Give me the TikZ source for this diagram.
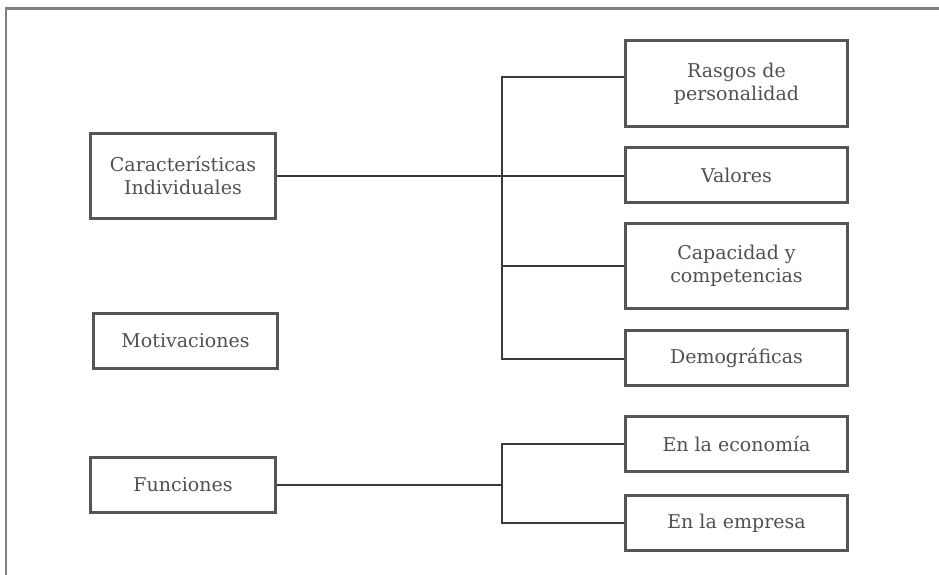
\documentclass[tikz,border=0pt]{standalone}
\usepackage{fontspec}
\setmainfont{DejaVu Serif}
\usepackage{tikz}
\usetikzlibrary{calc}

\definecolor{framegray}{HTML}{808080}
\definecolor{boxgray}{HTML}{555555}
\definecolor{linegray}{HTML}{3A3A3A}
\definecolor{textgray}{HTML}{505050}

\begin{document}
\begin{tikzpicture}[x = 1pt, y = -1pt,
		box/.style = {draw = boxgray, line width = 3pt, text = textgray, align = center, inner sep = 0pt,
			font = \fontsize{19}{23}\selectfont},
		conn/.style = {draw = linegray, line width = 2.5pt}]
				\useasboundingbox (0, 0) rectangle (939, 575);
				\draw[framegray, line width = 2.8pt] (6, 575)--(6, 8.5)--(939, 8.5);

				\node[box, minimum width = 185, minimum height = 85](caract) at (183, 176){Características\\Individuales};
				\node[box, minimum width = 184, minimum height = 55](motiv) at (185.5, 341){Motivaciones};
				\node[box, minimum width = 185, minimum height = 55](func) at (183, 485){Funciones};

				\node[box, minimum width = 222, minimum height = 86](rasgos) at (736.5, 83.5){Rasgos de\\personalidad};
				\node[box, minimum width = 222, minimum height = 55](valores) at (736.5, 175){Valores};
				\node[box, minimum width = 222, minimum height = 85](capac) at (736.5, 266){Capacidad y\\competencias};
				\node[box, minimum width = 222, minimum height = 55](demo) at (736.5, 358){Demográficas};
				\node[box, minimum width = 222, minimum height = 55](econ) at (736.5, 444){En la economía};
				\node[box, minimum width = 222, minimum height = 55](empresa) at (736.5, 523){En la empresa};

				\coordinate[](top) at (502, 77);
				\coordinate[](bot) at (502, 359);

				\draw[conn] (top -| rasgos.west)--(top)--(bot)--(bot -| demo.west);
				\draw[conn] (caract.east)--(caract.east -| valores.west);
				\draw[conn] (capac.west)--(capac.west -| top);
				\draw[conn] (econ.west)--(econ.west -| top)--(empresa.west -| top)--(empresa.west);
				\draw[conn] (func.east)--(func.east -| top);
			\end{tikzpicture}
\end{document}
